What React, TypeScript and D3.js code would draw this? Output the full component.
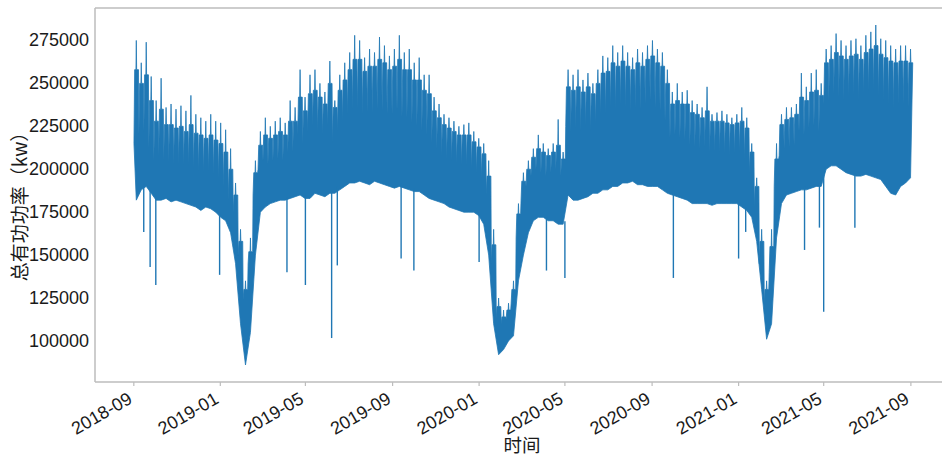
import React from "react";
import * as d3 from "d3";

// Weekly summary of total active power (kW), weeks starting 2018-09-01.
const firstWeek = "2018-09-01";
const lastDay = "2021-08-31";

// Highest reading in each week
const weekPeak = [
  275000, 262000, 274000, 254000, 240000, 253000, 236000, 238000, 235000, 237000,
  234000, 243000, 232000, 230000, 228000, 232000, 228000, 227000, 223000, 212000,
  192000, 165000, 135000, 160000, 205000, 222000, 230000, 225000, 228000, 230000,
  227000, 240000, 236000, 258000, 242000, 255000, 258000, 250000, 245000, 263000,
  240000, 255000, 262000, 268000, 278000, 275000, 265000, 270000, 268000, 277000,
  272000, 266000, 270000, 278000, 268000, 270000, 262000, 265000, 255000, 255000,
  242000, 238000, 232000, 230000, 228000, 225000, 226000, 227000, 222000, 218000,
  215000, 205000, 165000, 125000, 118000, 122000, 135000, 180000, 198000, 205000,
  212000, 220000, 215000, 212000, 215000, 229000, 210000, 258000, 255000, 258000,
  252000, 256000, 250000, 258000, 266000, 265000, 272000, 268000, 272000, 268000,
  265000, 270000, 268000, 272000, 275000, 270000, 268000, 258000, 245000, 250000,
  245000, 246000, 240000, 238000, 236000, 248000, 232000, 233000, 234000, 232000,
  230000, 232000, 236000, 230000, 215000, 195000, 165000, 135000, 165000, 215000,
  232000, 236000, 236000, 238000, 256000, 248000, 256000, 258000, 250000, 270000,
  272000, 279000, 275000, 272000, 275000, 276000, 272000, 278000, 280000, 284000,
  276000, 275000, 272000, 270000, 272000, 272000, 270000,
];

// Typical weekday maximum in each week
const weekTop = [
  258000, 250000, 255000, 240000, 228000, 235000, 226000, 226000, 224000, 225000,
  222000, 226000, 221000, 220000, 218000, 220000, 217000, 215000, 210000, 200000,
  185000, 158000, 130000, 152000, 198000, 214000, 220000, 218000, 220000, 222000,
  220000, 228000, 228000, 242000, 234000, 244000, 246000, 242000, 238000, 250000,
  236000, 246000, 252000, 258000, 264000, 264000, 257000, 260000, 260000, 264000,
  262000, 258000, 260000, 264000, 258000, 258000, 252000, 252000, 246000, 244000,
  234000, 230000, 226000, 224000, 222000, 220000, 220000, 220000, 216000, 213000,
  209000, 196000, 156000, 120000, 114000, 118000, 130000, 174000, 193000, 200000,
  207000, 212000, 210000, 208000, 210000, 214000, 206000, 248000, 246000, 248000,
  245000, 248000, 244000, 250000, 256000, 257000, 262000, 260000, 263000, 260000,
  258000, 262000, 260000, 264000, 266000, 262000, 260000, 250000, 238000, 240000,
  238000, 238000, 233000, 232000, 230000, 234000, 228000, 228000, 228000, 227000,
  226000, 227000, 228000, 224000, 210000, 190000, 158000, 130000, 155000, 206000,
  226000, 229000, 230000, 232000, 242000, 240000, 245000, 246000, 243000, 262000,
  264000, 268000, 266000, 264000, 266000, 267000, 264000, 268000, 270000, 272000,
  267000, 265000, 263000, 262000, 263000, 263000, 262000,
];

// Weekend maximum in each week
const weekNotch = [
  215000, 220000, 222000, 212000, 205000, 208000, 205000, 204000, 203000, 203000,
  202000, 202000, 200000, 199000, 198000, 199000, 197000, 195000, 190000, 182000,
  175000, 150000, 124000, 145000, 185000, 200000, 205000, 203000, 205000, 206000,
  205000, 210000, 210000, 220000, 215000, 222000, 225000, 222000, 220000, 225000,
  215000, 222000, 228000, 232000, 235000, 235000, 232000, 233000, 233000, 235000,
  234000, 232000, 232000, 234000, 230000, 230000, 227000, 225000, 222000, 220000,
  215000, 212000, 208000, 206000, 205000, 203000, 202000, 202000, 200000, 198000,
  195000, 185000, 145000, 113000, 110000, 113000, 122000, 160000, 182000, 190000,
  196000, 200000, 198000, 196000, 198000, 200000, 196000, 225000, 222000, 224000,
  222000, 225000, 222000, 226000, 232000, 232000, 236000, 235000, 238000, 236000,
  234000, 236000, 235000, 238000, 240000, 236000, 234000, 228000, 218000, 220000,
  218000, 217000, 214000, 213000, 212000, 213000, 210000, 210000, 210000, 209000,
  208000, 209000, 210000, 206000, 198000, 178000, 145000, 122000, 140000, 190000,
  208000, 212000, 213000, 214000, 222000, 220000, 224000, 225000, 222000, 238000,
  240000, 244000, 242000, 240000, 242000, 243000, 240000, 244000, 245000, 246000,
  242000, 240000, 238000, 236000, 238000, 238000, 236000,
];

// Typical daily minimum in each week
const weekLower = [
  182000, 188000, 190000, 186000, 182000, 182000, 183000, 181000, 182000, 181000,
  180000, 179000, 178000, 176000, 178000, 177000, 175000, 172000, 170000, 163000,
  145000, 110000, 86000, 105000, 150000, 175000, 178000, 180000, 181000, 182000,
  182000, 183000, 184000, 185000, 183000, 183000, 186000, 185000, 184000, 186000,
  186000, 188000, 190000, 192000, 192000, 193000, 192000, 191000, 193000, 192000,
  191000, 190000, 189000, 190000, 189000, 188000, 187000, 187000, 185000, 183000,
  182000, 181000, 180000, 178000, 177000, 176000, 175000, 175000, 175000, 173000,
  168000, 150000, 110000, 92000, 95000, 100000, 103000, 135000, 150000, 163000,
  170000, 172000, 172000, 170000, 170000, 168000, 168000, 185000, 182000, 182000,
  183000, 184000, 186000, 186000, 188000, 188000, 190000, 190000, 192000, 192000,
  193000, 191000, 191000, 190000, 190000, 190000, 188000, 186000, 185000, 184000,
  183000, 182000, 180000, 180000, 180000, 180000, 179000, 180000, 180000, 180000,
  180000, 180000, 178000, 176000, 172000, 158000, 130000, 101000, 110000, 160000,
  180000, 185000, 186000, 187000, 188000, 188000, 189000, 190000, 190000, 200000,
  202000, 202000, 200000, 198000, 197000, 196000, 196000, 197000, 196000, 195000,
  194000, 190000, 186000, 185000, 190000, 192000, 195000,
];

// Holiday drops below the normal band
const dipDates = [
  "2018-09-15", "2018-09-24", "2018-10-02", "2018-12-31", "2019-04-05",
  "2019-05-01", "2019-06-07", "2019-06-15", "2019-09-13", "2019-10-01",
  "2020-01-01", "2020-04-05", "2020-05-01", "2020-10-01", "2021-01-01",
  "2021-01-11", "2021-04-04", "2021-04-25", "2021-05-01", "2021-06-14",
];
const dipValues = [
  163500, 143000, 132600, 138500, 140000,
  132600, 101700, 144000, 148000, 141000,
  146000, 141000, 136700, 136700, 148000,
  163500, 153000, 166000, 117000, 166000,
];

const yTicks = [100000, 125000, 150000, 175000, 200000, 225000, 250000, 275000];
const xTickLabels = [
  "2018-09", "2019-01", "2019-05", "2019-09", "2020-01",
  "2020-05", "2020-09", "2021-01", "2021-05", "2021-09",
];

const BLUE = "#1f77b4";
const SPINE = "#bdbdbd";
const NUM_FONT = "'Liberation Sans', Arial, sans-serif";
const CJK_FONT = "'Noto Sans CJK SC', 'Noto Sans', sans-serif";

const W = 942;
const H = 458;
const left = 95;
const right = 949;
const top = 8;
const bottom = 382;

const parse = d3.timeParse("%Y-%m-%d");
const parseMonth = d3.timeParse("%Y-%m");
const DAY = 86400000;

type Pt = { t: Date; v: number };

export default function App() {
  const start = parse(firstWeek) as Date;
  const end = parse(lastDay) as Date;
  const at = (days: number) => new Date(start.getTime() + days * DAY);

  // upper outline: weekend notch, weekday plateau, weekly spike
  const upperPts: Pt[] = [];
  const lowerPts: Pt[] = [];
  weekPeak.forEach((p, i) => {
    const d0 = i * 7;
    upperPts.push({ t: at(d0 + 0.2), v: weekNotch[i] });
    upperPts.push({ t: at(d0 + 1.2), v: weekTop[i] });
    upperPts.push({ t: at(d0 + 3.0), v: weekTop[i] });
    upperPts.push({ t: at(d0 + 3.5), v: p });
    upperPts.push({ t: at(d0 + 4.0), v: weekTop[i] });
    upperPts.push({ t: at(d0 + 6.6), v: weekTop[i] });
    lowerPts.push({ t: at(d0 + 3.5), v: weekLower[i] });
  });

  const dips = dipDates.map((d, i) => {
    const date = parse(d) as Date;
    const wk = Math.min(weekLower.length - 1, Math.floor((date.getTime() - start.getTime()) / (7 * DAY)));
    return { date, value: dipValues[i], base: weekLower[wk] };
  });

  const span = end.getTime() - start.getTime();
  const x = d3
    .scaleTime()
    .domain([new Date(start.getTime() - span * 0.05), new Date(end.getTime() + span * 0.05)])
    .range([left, right]);

  const allVals = [...weekPeak, ...weekLower, ...dipValues];
  const lo = d3.min(allVals) as number;
  const hi = d3.max(allVals) as number;
  const pad = (hi - lo) * 0.05;
  const y = d3.scaleLinear().domain([lo - pad, hi + pad]).range([bottom, top]);

  const outline = d3
    .line<Pt>()
    .x((d) => x(d.t))
    .y((d) => y(d.v))
    .curve(d3.curveLinear);
  const bandPath =
    (outline(upperPts) ?? "") + "L" + (outline([...lowerPts].reverse()) ?? "").slice(1) + "Z";

  return (
    <svg
      width={W}
      height={H}
      style={{ position: "absolute", left: 0, top: 0, background: "#fff" }}
    >
      <rect x={0} y={0} width={W} height={H} fill="#fff" />
      <clipPath id="plot-clip">
        <rect x={left} y={top} width={right - left} height={bottom - top} />
      </clipPath>

      <g clipPath="url(#plot-clip)">
        <path d={bandPath} fill={BLUE} stroke={BLUE} strokeWidth={0.8} strokeLinejoin="miter" />
        {dips.map((d, i) => (
          <line
            key={`dp${i}`}
            x1={x(d.date)}
            x2={x(d.date)}
            y1={y(d.base) - 3}
            y2={y(d.value)}
            stroke={BLUE}
            strokeWidth={1.4}
          />
        ))}
      </g>

      {/* spines */}
      <line x1={left} x2={left} y1={top} y2={bottom} stroke={SPINE} strokeWidth={1.5} />
      <line x1={left} x2={right} y1={bottom} y2={bottom} stroke={SPINE} strokeWidth={1.5} />
      <line x1={left} x2={right} y1={top} y2={top} stroke={SPINE} strokeWidth={1.5} />
      <line x1={right} x2={right} y1={top} y2={bottom} stroke={SPINE} strokeWidth={1.5} />

      {/* y axis */}
      {yTicks.map((t) => (
        <text
          key={`yt${t}`}
          x={left - 6}
          y={y(t)}
          textAnchor="end"
          dominantBaseline="central"
          fontFamily={NUM_FONT}
          fontSize={18}
          fill="#1a1a1a"
        >
          {t}
        </text>
      ))}

      {/* x axis */}
      {xTickLabels.map((lab) => {
        const tx = x(parseMonth(lab) as Date);
        return (
          <g key={`xt${lab}`}>
            <line x1={tx} x2={tx} y1={bottom} y2={bottom + 4} stroke={SPINE} strokeWidth={1.2} />
            <text
              transform={`translate(${tx - 7},${bottom + 9}) rotate(-30)`}
              textAnchor="end"
              dy="0.72em"
              fontFamily={NUM_FONT}
              fontSize={18}
              fill="#1a1a1a"
            >
              {lab}
            </text>
          </g>
        );
      })}

      <text
        transform={`translate(18,202) rotate(-90)`}
        textAnchor="middle"
        dominantBaseline="central"
        fontFamily={CJK_FONT}
        fontSize={19}
        fill="#1a1a1a"
      >
        总有功功率（kw）
      </text>
      <text
        x={(left + right) / 2}
        y={452}
        textAnchor="middle"
        fontFamily={CJK_FONT}
        fontSize={18.5}
        fill="#1a1a1a"
      >
        时间
      </text>
    </svg>
  );
}
